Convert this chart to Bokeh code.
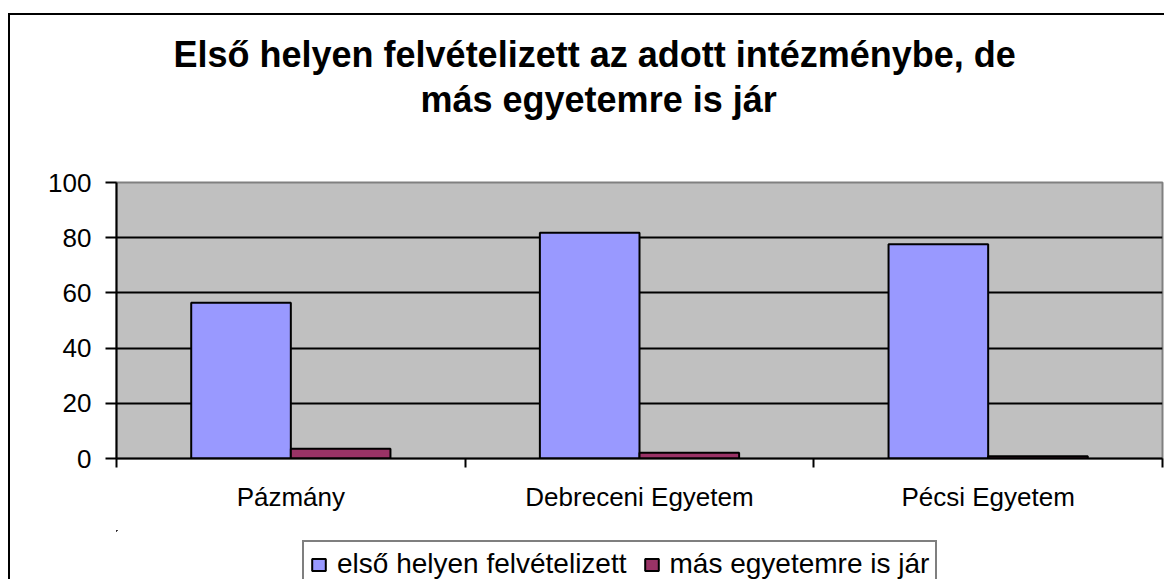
from bokeh.plotting import figure
from bokeh.layouts import column
from bokeh.models import Range1d, FixedTicker, Legend, LegendItem, Title
from bokeh.embed import file_html
from bokeh.resources import INLINE

categories = ["Pázmány", "Debreceni Egyetem", "Pécsi Egyetem"]
series_names = ["első helyen felvételizett", "más egyetemre is jár"]
first_place = [56.4, 81.8, 77.6]
other_uni = [3.5, 2.1, 0.8]
y_ticks = [0, 20, 40, 60, 80, 100]
title_lines = ["Első helyen felvételizett az adott intézménybe, de", "más egyetemre is jár"]
colors = ["#9999FF", "#993366"]

FONT = "Liberation Sans"
TOTAL_W = 1164
ML, MR, MT, MB = 116, 2, 182, 72
FW, FH = 1046, 276
LEG_H = 49

p = figure(frame_width=FW, frame_height=FH, output_backend="svg", toolbar_location=None,
           x_range=Range1d(0, len(categories)), y_range=Range1d(0, 100),
           min_border_left=ML, min_border_right=MR, min_border_top=MT, min_border_bottom=MB)
# outer chart frame (left and top edges visible), drawn behind a transparent border fill
p.styles = {"background": "linear-gradient(#000,#000) 8px 13px / 2px 100% no-repeat, "
                          "linear-gradient(#000,#000) 8px 13px / 100% 2px no-repeat, #fff"}
p.background_fill_color = "#C0C0C0"
p.border_fill_alpha = 0
p.outline_line_color = "#808080"
p.outline_line_width = 2

bw = 1 / 3.5
centers = [i + 0.5 for i in range(len(categories))]
x_first = [c - bw / 2 for c in centers]
x_other = [c + bw / 2 for c in centers]
r1 = p.vbar(x=x_first, top=first_place, width=bw, bottom=0,
            fill_color=colors[0], line_color="black", line_width=2)
r2 = p.vbar(x=x_other, top=other_uni, width=bw, bottom=0,
            fill_color=colors[1], line_color="black", line_width=2)

# axes
p.xaxis.ticker = FixedTicker(ticks=centers, minor_ticks=list(range(len(categories) + 1)))
p.xaxis.major_label_overrides = {c: cat for c, cat in zip(centers, categories)}
p.xaxis.major_tick_line_color = None
p.xaxis.minor_tick_in = 0
p.xaxis.minor_tick_out = 9
p.xaxis.minor_tick_line_color = "black"
p.xaxis.minor_tick_line_width = 2
p.xaxis.axis_line_color = "black"
p.xaxis.axis_line_width = 2
p.xaxis.major_label_text_font = FONT
p.xaxis.major_label_text_font_size = "26px"
p.xaxis.major_label_text_color = "black"
p.xaxis.major_label_standoff = 14

p.yaxis.ticker = FixedTicker(ticks=y_ticks)
p.yaxis.minor_tick_line_color = None
p.yaxis.major_tick_in = 0
p.yaxis.major_tick_out = 11
p.yaxis.major_tick_line_width = 2
p.yaxis.major_tick_line_color = "black"
p.yaxis.axis_line_color = "black"
p.yaxis.axis_line_width = 2
p.yaxis.major_label_text_font = FONT
p.yaxis.major_label_text_font_size = "26px"
p.yaxis.major_label_text_color = "black"
p.yaxis.major_label_standoff = 14

p.xgrid.grid_line_color = None
p.ygrid.ticker = FixedTicker(ticks=y_ticks[1:-1])
p.ygrid.grid_line_color = "black"
p.ygrid.grid_line_width = 2

# title panels, stacked outward from the frame: spacer, line 2, line 1
p.add_layout(Title(text=" ", standoff=60, text_font_size="1px"), "above")
for line, off, so in [(title_lines[1], 304, 0), (title_lines[0], 57, 4)]:
    p.add_layout(Title(text=line, align="left", offset=off, standoff=so,
                       text_font=FONT, text_font_style="bold", text_font_size="36px",
                       text_color="black"), "above")

# legend strip below the chart (its frame is aligned with the chart frame by the column)
q = figure(width=TOTAL_W, height=LEG_H, output_backend="svg", toolbar_location=None,
           x_range=Range1d(100, 100 + len(categories)), y_range=Range1d(-1000, -900),
           x_axis_location=None, y_axis_location=None,
           min_border_left=0, min_border_right=0, min_border_top=0, min_border_bottom=0)
q.styles = {"background": "linear-gradient(#000,#000) 8px 0px / 2px 100% no-repeat, #fff"}
q.grid.visible = False
q.outline_line_color = None
q.background_fill_alpha = 0
q.border_fill_alpha = 0
# same series placed far outside the strip's visible ranges; they only supply legend swatches
s1 = q.vbar(x=x_first, top=first_place, width=bw, bottom=0,
            fill_color=colors[0], line_color="black", line_width=2)
s2 = q.vbar(x=x_other, top=other_uni, width=bw, bottom=0,
            fill_color=colors[1], line_color="black", line_width=2)

legend = Legend(items=[LegendItem(label=series_names[0], renderers=[s1]),
                       LegendItem(label=series_names[1], renderers=[s2])],
                orientation="horizontal", location=(186, -9),
                border_line_color="black", border_line_width=2, background_fill_color="white",
                background_fill_alpha=1, label_text_font=FONT, label_text_font_size="28px",
                label_text_color="black", glyph_width=17, glyph_height=15, label_standoff=10,
                spacing=16, padding=6, margin=0)
q.add_layout(legend, "center")

open("out.html", "w").write(file_html(column(p, q, spacing=0), INLINE))
